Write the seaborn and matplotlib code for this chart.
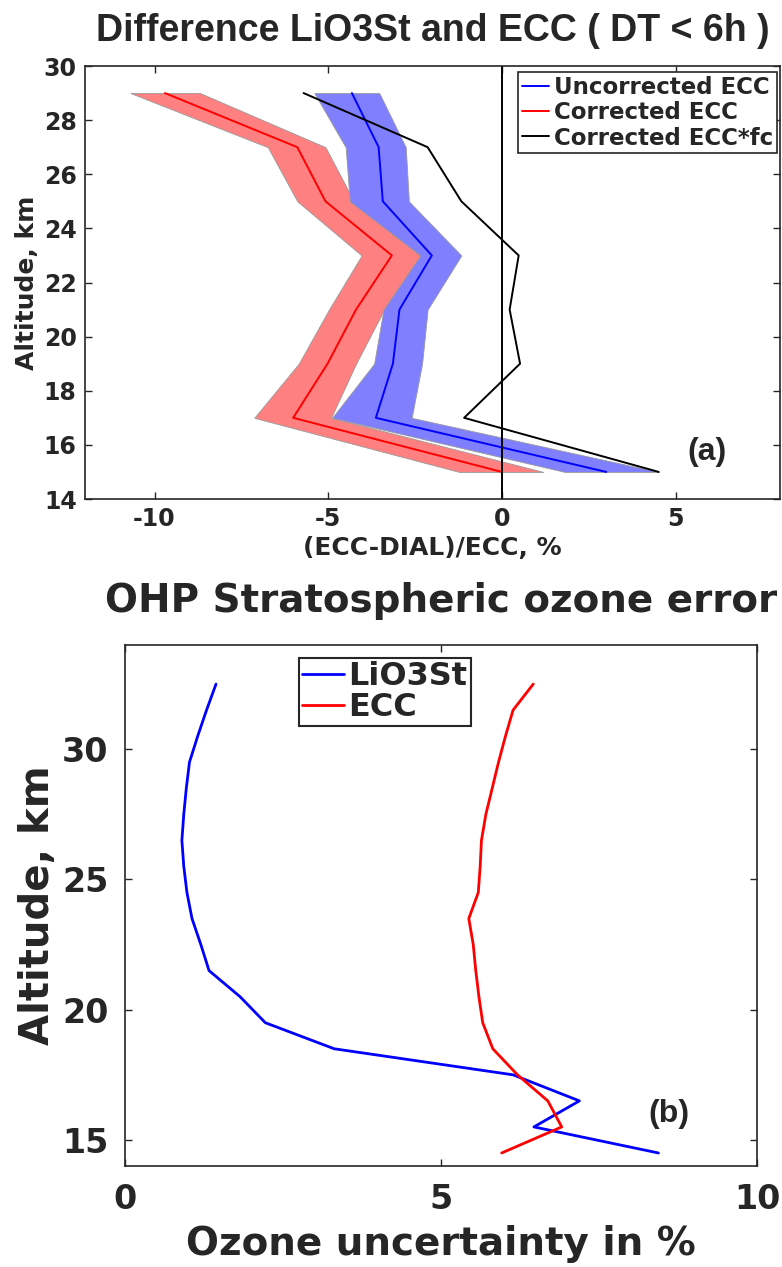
import matplotlib
matplotlib.use("Agg")
import matplotlib.pyplot as plt
import seaborn as sns
import pandas as pd

# ---- panel (a): relative difference profiles
alt_a = [15, 17, 19, 21, 23, 25, 27, 29]
uncorr = [3.0, -3.63, -3.14, -2.95, -2.02, -3.43, -3.55, -4.32]
uncorr_lo = [1.81, -4.89, -3.68, -3.41, -2.35, -4.38, -4.50, -5.40]
uncorr_hi = [4.51, -2.60, -2.30, -2.14, -1.17, -2.68, -2.77, -3.53]
corr = [0.0, -6.01, -5.02, -4.20, -3.17, -5.08, -5.89, -9.70]
corr_lo = [-1.23, -7.13, -5.85, -4.98, -4.04, -5.89, -6.74, -10.69]
corr_hi = [1.19, -4.92, -4.20, -3.39, -2.35, -4.26, -5.08, -8.69]
corr_fc = [4.51, -1.09, 0.52, 0.22, 0.48, -1.17, -2.14, -5.71]

# ---- panel (b): ozone uncertainty profiles
alt_b = [14.5, 15.5, 16.5, 17.5, 18.5, 19.5, 20.5, 21.5, 22.5, 23.5,
         24.5, 25.5, 26.5, 27.5, 28.5, 29.5, 30.5, 31.5, 32.5]
lio3st = [8.44, 6.47, 7.19, 6.14, 3.31, 2.22, 1.82, 1.33, 1.20, 1.06,
          0.98, 0.93, 0.90, 0.93, 0.97, 1.02, 1.15, 1.29, 1.44]
ecc = [5.96, 6.91, 6.69, 6.21, 5.82, 5.66, 5.60, 5.55, 5.51, 5.44,
       5.59, 5.62, 5.64, 5.71, 5.81, 5.91, 6.02, 6.14, 6.46]

sns.set_theme(style="ticks")
plt.rcParams['font.family'] = ['DejaVu Sans']
plt.rcParams['font.weight'] = 'bold'
plt.rcParams['axes.labelweight'] = 'bold'
plt.rcParams['axes.unicode_minus'] = False
plt.rcParams['axes.edgecolor'] = '#262626'
plt.rcParams['xtick.color'] = '#262626'
plt.rcParams['ytick.color'] = '#262626'

W, H = 782, 1267
fig = plt.figure(figsize=(W / 100, H / 100), dpi=100)

def px_axes(l, t, r, b):
    return fig.add_axes([l / W, 1 - b / H, (r - l) / W, (b - t) / H])

ax1 = px_axes(85, 66, 780, 499)
ax2 = px_axes(125, 645, 757, 1166)

# panel a
da = pd.DataFrame({'alt': alt_a, 'uncorr': uncorr, 'corr': corr, 'fc': corr_fc})
ax1.fill_betweenx(alt_a, corr_lo, corr_hi, color=(1, 0.5, 0.5), edgecolor='#999999', lw=0.6)
ax1.fill_betweenx(alt_a, uncorr_lo, uncorr_hi, color=(0.5, 0.5, 1), edgecolor='#999999', lw=0.6)
sns.lineplot(data=da, x='uncorr', y='alt', sort=False, estimator=None, color='blue', lw=1.4,
             label='Uncorrected ECC', ax=ax1)
sns.lineplot(data=da, x='corr', y='alt', sort=False, estimator=None, color='red', lw=1.4,
             label='Corrected ECC', ax=ax1)
sns.lineplot(data=da, x='fc', y='alt', sort=False, estimator=None, color='black', lw=1.4,
             label='Corrected ECC*fc', ax=ax1)
ax1.axvline(0, color='black', lw=1.4)
ax1.set_xlim(-12, 8)
ax1.set_ylim(14, 30)
ax1.set_xticks([-10, -5, 0, 5])
ax1.set_yticks(range(14, 31, 2))
ax1.set_xlabel('(ECC-DIAL)/ECC, %', fontsize=18, labelpad=3)
ax1.set_ylabel('Altitude, km', fontsize=18, labelpad=3)
ax1.set_title('Difference LiO3St and ECC ( DT < 6h )', fontsize=27, fontweight='bold',
              family='Liberation Sans', pad=18)
ax1.tick_params(direction='in', top=True, right=True, length=5, width=1, labelsize=17, pad=6)
ax1.text(5.9, 15.75, '(a)', fontsize=23, fontweight='bold', family='Liberation Sans',
         ha='center', va='center')
leg = ax1.legend(loc='upper right', bbox_to_anchor=(0.995, 0.985), fontsize=16.5,
                 fancybox=False, edgecolor='#262626', framealpha=1, handlelength=1.2,
                 handletextpad=0.2, borderpad=0.15, labelspacing=0.1, borderaxespad=0)
leg.get_frame().set_linewidth(1.2)

# panel b
db = pd.DataFrame({'alt': alt_b, 'LiO3St': lio3st, 'ECC': ecc})
sns.lineplot(data=db, x='LiO3St', y='alt', sort=False, estimator=None, color='blue', lw=2,
             label='LiO3St', ax=ax2)
sns.lineplot(data=db, x='ECC', y='alt', sort=False, estimator=None, color='red', lw=2,
             label='ECC', ax=ax2)
ax2.set_xlim(0, 10)
ax2.set_ylim(14, 34)
ax2.set_xticks([0, 5, 10])
ax2.set_yticks([15, 20, 25, 30])
ax2.set_xlabel('Ozone uncertainty in %', fontsize=28, labelpad=7)
ax2.set_ylabel('Altitude, km', fontsize=29, labelpad=3)
ax2.set_title('OHP Stratospheric ozone error', fontsize=28, fontweight='bold', pad=24)
ax2.tick_params(direction='in', top=True, right=True, length=5, width=1, labelsize=24, pad=12)
ax2.text(8.6, 16.0, '(b)', fontsize=23, fontweight='bold', family='Liberation Sans',
         ha='center', va='center')
leg2 = ax2.legend(loc='upper left', bbox_to_anchor=(0.275, 0.975), fontsize=23,
                  fancybox=False, edgecolor='#262626', framealpha=1, handlelength=1.3,
                  handletextpad=0.15, borderpad=0.1, labelspacing=0.0, borderaxespad=0)
leg2.get_frame().set_linewidth(1.5)

for ax in (ax1, ax2):
    for s in ax.spines.values():
        s.set_linewidth(1.2)

fig.savefig('out.png', dpi=100)
